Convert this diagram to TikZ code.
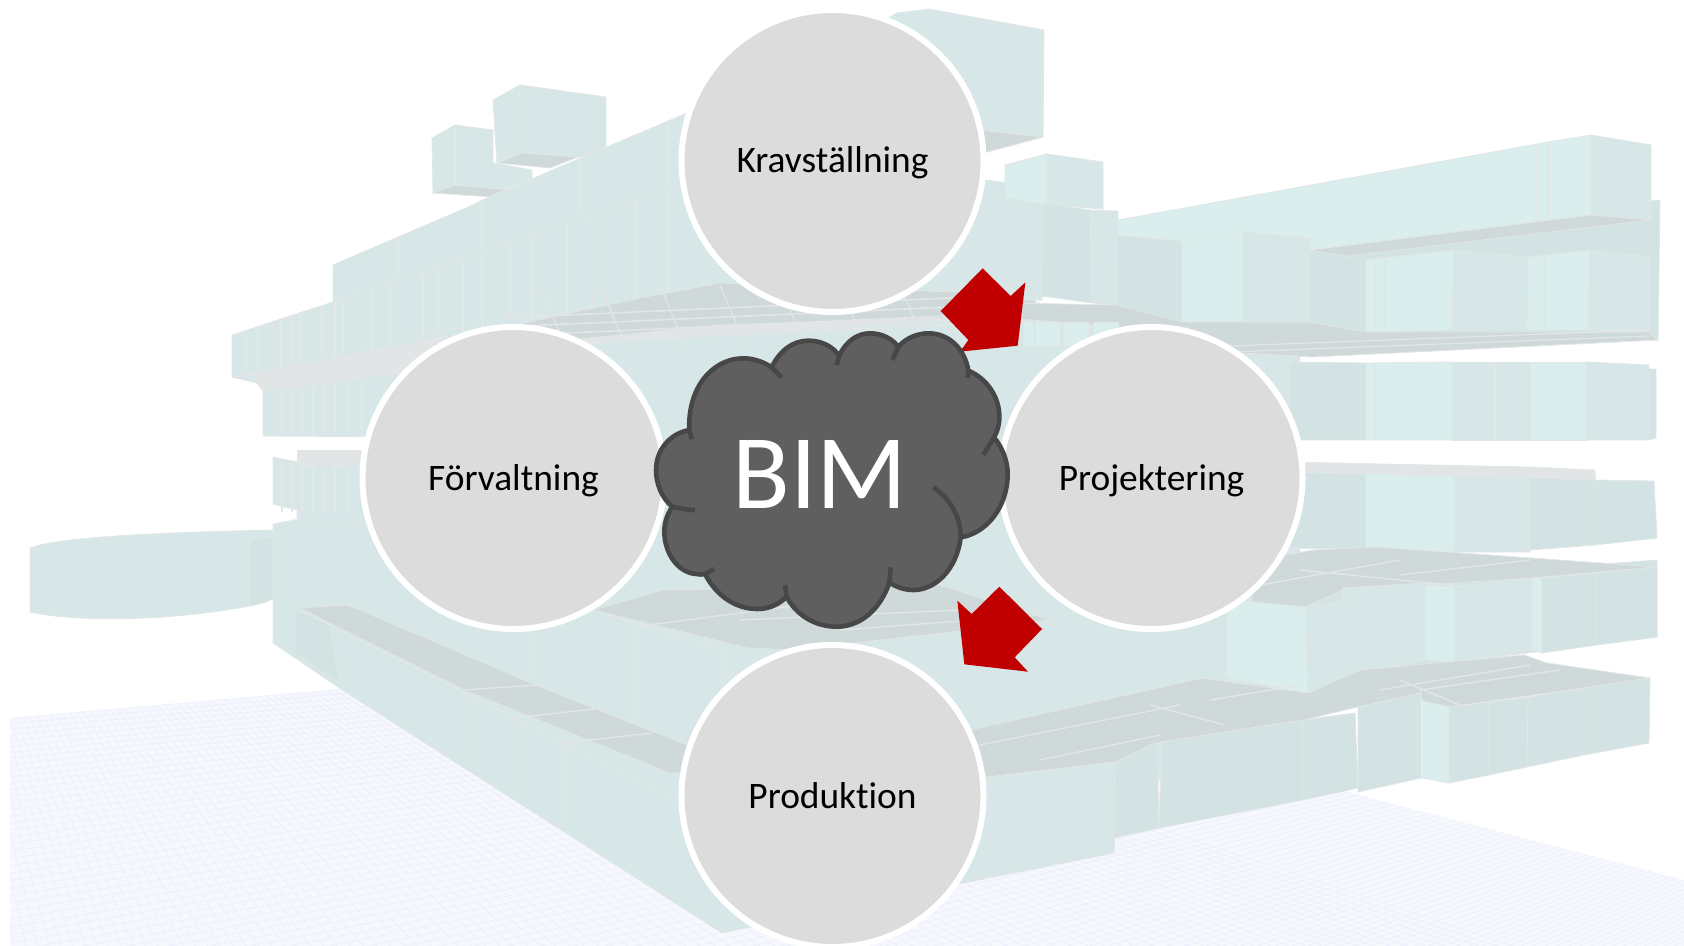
\documentclass[tikz,border=0pt]{standalone}
\usepackage{fontspec}
\setmainfont{Carlito}[Ligatures=NoCommon]
\definecolor{lightteal}{HTML}{DAEEEE}
\definecolor{midteal}{HTML}{D7E7E8}
\definecolor{sideteal}{HTML}{D3E2E3}
\definecolor{slabgray}{HTML}{CFD9DA}
\definecolor{palegray}{HTML}{E1E5E5}
\definecolor{seamgray}{HTML}{E2E6E6}
\definecolor{floorblue}{HTML}{F6F8FE}
\definecolor{gridblue}{HTML}{ECF0FC}
\definecolor{cloudfill}{HTML}{5F5F5F}
\definecolor{cloudline}{HTML}{474747}
\definecolor{arrowred}{HTML}{C00000}
\definecolor{circlefill}{HTML}{DCDCDC}
\tikzset{
  lightface/.style={fill=lightteal,draw=seamgray,line width=.4pt,line join=round},
  midface/.style={fill=midteal,draw=seamgray,line width=.4pt,line join=round},
  sideface/.style={fill=sideteal,draw=seamgray,line width=.4pt,line join=round},
  slabface/.style={fill=slabgray,draw=seamgray,line width=.4pt,line join=round},
  paleslab/.style={fill=palegray,draw=seamgray,line width=.3pt,line join=round},
  seam/.style={draw=seamgray,line width=.7pt},
  phase/.style={shape=circle,fill=circlefill,draw=white,line width=3pt,
    minimum size=151pt,inner sep=0pt,text height=14pt,text depth=2pt,
    font=\fontsize{18.7}{22}\selectfont},
  redarrow/.style={fill=arrowred},
  cloudedge/.style={draw=cloudline,line width=2.3pt,line join=round}
}
\begin{document}
\begin{tikzpicture}[x=.5pt,y=-.5pt]
  \useasboundingbox (0,0) rectangle (1684,946);
  % floor with its grid
  \begin{scope}
    \clip (10,718) -- (341,689) -- (1348,792) -- (1684,880) -- (1684,946) -- (10,946) -- cycle;
    \fill[floorblue] (0,680) rectangle (1684,946);
    \foreach \i in {0,...,110} {
      \draw[gridblue,line width=.35pt] (2563,494) -- (10,{718+5.5*\i+.04*\i*\i});
    }
    \foreach \i in {-8,...,96} {
      \draw[gridblue,line width=.35pt] (-90,415) -- ({85+12*\i+.03*\i*\i},946);
    }
  \end{scope}
  % round wing on the left
  \fill[midface] (30,548) .. controls (60,536) and (180,532) .. (273,530) -- (279,540) -- (279,596) -- (263,603)
    .. controls (200,618) and (90,625) .. (30,612) -- cycle;
  \fill[sideface] (250,540) -- (279,536) -- (279,596) -- (263,603) -- (250,606) -- cycle;
  % boxes on the roof
  \fill[midface] (850,40) -- (897,13) -- (929,9) -- (1044,30) -- (1043,137) -- (987,152) -- (900,200) -- cycle;
  \fill[slabface] (960,128) -- (1043,137) -- (987,152) -- (960,160) -- cycle;
  \fill[midface] (493,100) -- (520,85) -- (606,97) -- (606,147) -- (582,157) -- (497,163) -- cycle;
  \fill[midface] (432,138) -- (455,125) -- (493,130) -- (493,163) -- (532,170) -- (532,178) -- (503,190) -- (433,193) -- cycle;
  \draw[seam] (520,85) -- (520,155) (455,125) -- (455,185);
  \fill[slabface] (433,193) -- (455,185) -- (510,190) -- (493,197) -- cycle;
  \fill[slabface] (497,163) -- (522,153) -- (578,157) -- (550,168) -- cycle;
  % main mass
  \fill[midface] (333,265) -- (398,237) -- (473,205) -- (482,200) -- (687,113) -- (760,82) -- (850,60) -- (983,150)
    -- (983,300) -- (333,302) -- cycle;
  \fill[midface] (232,335) -- (333,302) -- (687,183) -- (983,180) -- (1043,187) -- (1042,300) -- (720,290)
    -- (400,345) -- (257,383) -- (232,377) -- cycle;
  \fill[midface] (400,330) -- (1300,300) -- (1300,700) -- (988,878) -- (722,933) -- (341,689) -- (273,643)
    -- (273,524) -- (400,500) -- cycle;
  \fill[midface] (263,391) -- (410,372) -- (410,437) -- (263,436) -- cycle;
  \fill[midface] (273,457) -- (297,462) -- (410,462) -- (410,530) -- (297,518) -- (297,510) -- (273,504) -- cycle;
  \fill[paleslab] (297,450) -- (400,450) -- (400,465) -- (297,465) -- cycle;
  \fill[sideface] (295,610) -- (330,625) -- (339,683) -- (295,653) -- cycle;
  \foreach \x in {246,258,272,281,291,300,312,322,335,343,360,372,390,423,438,463,482,510,532,567,592,635,668} {
    \draw[seam] (\x,{335-.333*(\x-232)}) -- (\x,{377-.19*(\x-232)});
  }
  \foreach \x in {272,282,293,302,313,323,335,347,362} { \draw[seam] (\x,{391-.11*(\x-263)}) -- (\x,436); }
  \foreach \x in {282,292,302,313,323,335,347} { \draw[seam] (\x,462) -- (\x,512); }
  \draw[seam] (398,237) -- (398,277) (482,200) -- (482,248) (580,160) -- (580,213) (668,125) -- (668,183);
  % pale slab between the upper rows
  \fill[paleslab] (232,377) -- (255,375) -- (257,383) -- (263,391) -- (410,372) -- (640,338) -- (720,335) -- (960,320)
    -- (1040,315) -- (1033,295) -- (720,283) -- (640,298) -- (510,325) -- (400,345) -- cycle;
  \fill[slabface] (500,328) -- (640,298) -- (720,283) -- (1033,295) -- (1040,315) -- (720,325) -- (640,333) -- (520,345) -- cycle;
  \foreach \y in {300,309,318,327} { \draw[seamgray,line width=.8pt] (500,{\y+18}) -- (1040,{\y-6}); }
  \foreach \x in {540,600,660,720,780,840,900,960} { \draw[seamgray,line width=.6pt] (\x,285) -- ({\x+25},345); }
  % lower rail and slab on the left
  \fill[slabface] (299,608) -- (348,605) -- (536,685) -- (700,750) -- (700,773) -- (670,773) -- (464,690) -- cycle;
  \draw[seam] (464,690) -- (536,685) (513,718) -- (594,709) (562,743) -- (652,733);
  \draw[seam] (464,690) -- (464,763) (512,718) -- (512,797) (562,743) -- (562,830)
    (535,630) -- (535,680) (634,627) -- (634,723) (722,650) -- (722,770)
    (299,608) -- (480,700) -- (562,743) -- (677,800) (593,610) -- (722,650);
  \fill[slabface] (593,610) -- (663,590) -- (940,585) -- (1050,620) -- (943,633) -- (880,640) -- (790,650) -- (747,648)
    -- (663,627) -- cycle;
  \draw[seam] (634,627) -- (800,605) (740,620) -- (960,610) (840,630) -- (1040,615);
  % right wing, top band
  \fill[midface] (983,180) -- (1043,187) -- (1042,300) -- (983,300) -- cycle;
  \fill[lightface] (1005,165) -- (1047,154) -- (1047,205) -- (1005,198) -- cycle;
  \fill[midface] (1047,154) -- (1103,162) -- (1103,209) -- (1047,205) -- cycle;
  \fill[sideface] (1043,203) -- (1090,210) -- (1092,303) -- (1042,296) -- cycle;
  \fill[midface] (1090,210) -- (1118,211) -- (1117,305) -- (1092,303) -- cycle;
  \fill[sideface] (1117,235) -- (1182,241) -- (1182,322) -- (1117,322) -- cycle;
  \fill[sideface] (1310,238) -- (1660,200) -- (1658,340) -- (1310,340) -- cycle;
  \fill[lightface] (1118,220) -- (1548,142) -- (1591,135) -- (1591,215) -- (1339,255) -- (1310,250) -- (1310,238) -- (1243,232)
    -- (1182,241) -- (1118,235) -- cycle;
  \fill[midface] (1591,135) -- (1651,145) -- (1651,220) -- (1591,215) -- cycle;
  \draw[seam] (1536,145) -- (1536,225) (1548,142) -- (1548,222);
  \fill[slabface] (1310,250) -- (1591,215) -- (1651,220) -- (1339,257) -- cycle;
  \fill[lightface] (1182,241) -- (1243,232) -- (1243,322) -- (1182,322) -- cycle;
  \fill[midface] (1243,232) -- (1310,238) -- (1310,322) -- (1243,322) -- cycle;
  % right wing, second row
  \fill[sideface] (1310,250) -- (1366,260) -- (1366,332) -- (1310,325) -- cycle;
  \fill[lightface] (1366,260) -- (1454,250) -- (1452,330) -- (1366,332) -- cycle;
  \fill[midface] (1454,250) -- (1528,257) -- (1527,330) -- (1452,330) -- cycle;
  \fill[lightface] (1528,257) -- (1590,250) -- (1588,330) -- (1527,330) -- cycle;
  \fill[midface] (1590,250) -- (1649,257) -- (1649,332) -- (1588,330) -- cycle;
  \draw[seam] (1375,258) -- (1375,332) (1385,257) -- (1385,332) (1545,255) -- (1545,330);
  % right wing, slab under second row
  \fill[slabface] (960,302) -- (1117,305) -- (1182,322) -- (1310,322) -- (1366,332) -- (1649,332) -- (1658,340) -- (1312,357)
    -- (1227,352) -- (1100,325) -- (960,315) -- cycle;
  \foreach \y in {338,344} { \draw[seamgray,line width=.6pt] (1230,{\y+8}) -- (1650,{\y-8}); }
  \foreach \x in {1023,1035,1063,1093} { \fill[lightface] (\x,322) rectangle ({\x+10+(\x>1023)*15},345); }
  % right wing, third row
  \fill[sideface] (1290,362) -- (1366,363) -- (1366,440) -- (1290,440) -- cycle;
  \fill[lightface] (1366,363) -- (1451,362) -- (1451,440) -- (1366,440) -- cycle;
  \fill[midface] (1451,362) -- (1530,362) -- (1530,440) -- (1451,440) -- cycle;
  \fill[lightface] (1530,362) -- (1586,362) -- (1586,440) -- (1530,440) -- cycle;
  \fill[midface] (1586,362) -- (1649,365) -- (1649,440) -- (1586,440) -- cycle;
  \fill[sideface] (1649,369) -- (1656,369) -- (1656,438) -- (1649,440) -- cycle;
  \draw[seam] (1375,363) -- (1375,440) (1495,362) -- (1495,440);
  % right wing, fourth row
  \fill[sideface] (1290,470) -- (1366,470) -- (1366,548) -- (1290,548) -- cycle;
  \fill[lightface] (1366,470) -- (1454,472) -- (1454,552) -- (1366,550) -- cycle;
  \fill[midface] (1454,472) -- (1530,475) -- (1530,552) -- (1454,552) -- cycle;
  \fill[sideface] (1530,470) -- (1595,472) -- (1595,545) -- (1530,550) -- cycle;
  \fill[sideface] (1595,480) -- (1654,481) -- (1657,538) -- (1595,545) -- cycle;
  \fill[paleslab] (1290,462) -- (1530,467) -- (1595,470) -- (1595,480) -- (1530,478) -- (1290,472) -- cycle;
  % right wing, fifth row
  \fill[sideface] (1252,590) -- (1657,560) -- (1657,637) -- (1454,662) -- (1360,682) -- (1252,690) -- cycle;
  \fill[slabface] (1200,570) -- (1313,550) -- (1378,547) -- (1657,567) -- (1532,578) -- (1426,585) -- (1343,590) -- (1305,607)
    -- (1252,603) -- cycle;
  \draw[seam] (1260,585) -- (1400,560) (1300,570) -- (1500,590) (1400,575) -- (1530,560);
  \fill[midface] (1100,620) -- (1252,590) -- (1252,690) -- (1100,720) -- cycle;
  \fill[lightface] (1227,600) -- (1252,602) -- (1252,683) -- (1227,678) -- cycle;
  \fill[lightface] (1252,602) -- (1305,607) -- (1308,693) -- (1252,683) -- cycle;
  \fill[midface] (1343,588) -- (1426,583) -- (1426,660) -- (1360,673) -- (1343,677) -- cycle;
  \fill[midface] (1305,607) -- (1360,598) -- (1360,682) -- (1308,693) -- cycle;
  \fill[lightface] (1426,585) -- (1454,587) -- (1454,662) -- (1426,660) -- cycle;
  \fill[midface] (1454,587) -- (1532,578) -- (1532,650) -- (1454,662) -- cycle;
  \fill[lightface] (1532,578) -- (1542,578) -- (1542,653) -- (1532,650) -- cycle;
  \fill[sideface] (1542,578) -- (1597,573) -- (1597,645) -- (1542,653) -- cycle;
  \fill[sideface] (1597,573) -- (1657,567) -- (1657,637) -- (1597,645) -- cycle;
  % right wing, lowest row
  \fill[slabface] (970,730) -- (1202,678) -- (1308,693) -- (1360,670) -- (1524,655) -- (1547,663) -- (1650,678) -- (1584,688)
    -- (1449,707) -- (1422,701) -- (1421,693) -- (1358,707) -- (1303,720) -- (1162,742) -- (1116,762) -- (986,777) -- cycle;
  \draw[seam] (980,745) -- (1180,705) (1040,760) -- (1160,735) (1150,705) -- (1225,725) (1210,700) -- (1300,685)
    (1380,690) -- (1530,665) (1420,690) -- (1560,670) (1460,705) -- (1400,680);
  \fill[midface] (988,778) -- (1116,762) -- (1114,853) -- (988,878) -- cycle;
  \fill[sideface] (1116,762) -- (1157,742) -- (1159,828) -- (1114,838) -- cycle;
  \fill[sideface] (1162,742) -- (1303,720) -- (1303,800) -- (1159,828) -- cycle;
  \fill[sideface] (1303,720) -- (1355,713) -- (1358,788) -- (1303,800) -- cycle;
  \fill[sideface] (1358,707) -- (1421,693) -- (1421,778) -- (1358,792) -- cycle;
  \fill[lightface] (1422,701) -- (1449,707) -- (1449,783) -- (1422,778) -- cycle;
  \fill[sideface] (1449,707) -- (1489,702) -- (1489,775) -- (1449,783) -- cycle;
  \fill[sideface] (1489,702) -- (1528,697) -- (1527,767) -- (1489,775) -- cycle;
  \fill[sideface] (1528,697) -- (1584,688) -- (1584,755) -- (1527,767) -- cycle;
  \fill[sideface] (1584,688) -- (1650,678) -- (1649,743) -- (1584,755) -- cycle;
  % red arrows
  \begin{scope}[shift={(640,250)},x=.16667pt,y=-.16667pt]
    \fill[redarrow] (1028,55) -- (1112,138) -- (1156,97) -- (1133,287) -- (960,305) -- (985,270) -- (902,183) -- cycle;
    \fill[redarrow] (952,1052) -- (995,1092) -- (1078,1010) -- (1206,1137) -- (1124,1222) -- (1164,1265) -- (973,1243) -- cycle;
  \end{scope}
  % the four phases
  \node[phase] (krav) at (832.5,161) {Kravställning};
  \node[phase] (forvaltning) at (513.5,478) {Förvaltning};
  \node[phase] (projektering) at (1151.5,478) {Projektering};
  \node[phase] (produktion) at (832.5,796) {Produktion};
  % cloud
  \begin{scope}[shift={(640,250)},x=.16667pt,y=-.16667pt]
    \fill[cloudfill] [cloudedge] (97,770) .. controls (65,745) and (48,700) .. (48,660) .. controls (48,600) and (90,550) .. (148,540)
      .. controls (142,410) and (220,325) .. (310,325) .. controls (340,325) and (370,335) .. (395,352)
      .. controls (420,300) and (460,272) .. (505,272) .. controls (545,272) and (580,290) .. (597,318)
      .. controls (620,270) and (655,250) .. (690,250) .. controls (725,250) and (755,265) .. (775,290)
      .. controls (800,262) and (835,250) .. (865,250) .. controls (930,250) and (975,300) .. (985,362)
      .. controls (1040,385) and (1078,440) .. (1078,500) .. controls (1078,525) and (1072,545) .. (1062,562)
      .. controls (1085,590) and (1103,630) .. (1103,672) .. controls (1103,770) and (1040,850) .. (962,862)
      .. controls (950,960) and (885,1020) .. (820,1020) .. controls (795,1020) and (770,1012) .. (748,998)
      .. controls (720,1080) and (660,1130) .. (590,1130) .. controls (520,1130) and (465,1090) .. (440,1040)
      .. controls (415,1065) and (385,1077) .. (352,1077) .. controls (290,1077) and (230,1040) .. (195,972)
      .. controls (185,974) and (178,974) .. (170,972) .. controls (115,970) and (73,910) .. (73,845)
      .. controls (73,820) and (80,795) .. (97,770) -- cycle;
    \draw[cloudedge] (97,770) .. controls (120,775) and (140,780) .. (165,780);
    \draw[cloudedge] (148,540) -- (155,568);
    \draw[cloudedge] (395,352) -- (425,382);
    \draw[cloudedge] (597,318) -- (590,345);
    \draw[cloudedge] (775,290) -- (757,330);
    \draw[cloudedge] (985,362) -- (982,383);
    \draw[cloudedge] (1062,562) -- (1030,614);
    \draw[cloudedge] (962,862) .. controls (962,800) and (930,745) .. (880,712);
    \draw[cloudedge] (748,998) -- (752,952);
    \draw[cloudedge] (440,1040) -- (435,1005);
    \draw[cloudedge] (195,972) -- (222,957);
  \end{scope}
  \node[text=white,font=\fontsize{53}{64}\selectfont,inner sep=0pt] (bim) at (820,474) {BIM};
\end{tikzpicture}
\end{document}
